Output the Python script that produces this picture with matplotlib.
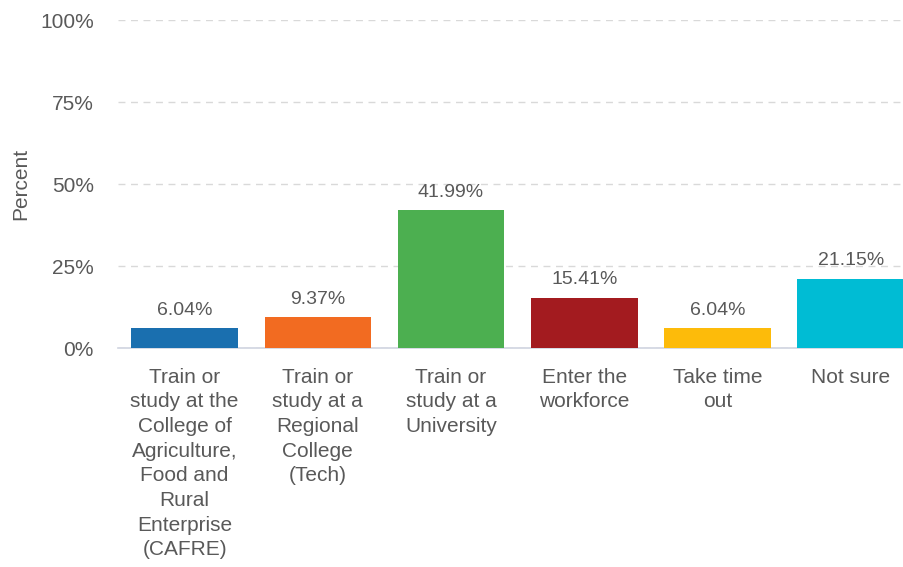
import matplotlib.pyplot as plt

# --- data ---
categories = [
    "Train or\nstudy at the\nCollege of\nAgriculture,\nFood and\nRural\nEnterprise\n(CAFRE)",
    "Train or\nstudy at a\nRegional\nCollege\n(Tech)",
    "Train or\nstudy at a\nUniversity",
    "Enter the\nworkforce",
    "Take time\nout",
    "Not sure",
]
values = [6.04, 9.37, 41.99, 15.41, 6.04, 21.15]
yticks = [0, 25, 50, 75, 100]
colors = ["#1a6faf", "#f26b21", "#4caf50", "#a31b1f", "#fdbb0a", "#00bcd4"]

plt.rcParams["font.family"] = ["Liberation Sans", "DejaVu Sans"]
txt = "#595959"

fig = plt.figure(figsize=(9.04, 5.67), dpi=100)
ax = fig.add_axes([0.1305, 0.386, 0.8695, 0.5785])

x = range(len(values))
ax.bar(x, values, width=0.8, color=colors, zorder=3)

for xi, v in zip(x, values):
    ax.annotate(f"{v:.2f}%", (xi, v), xytext=(0, 7), textcoords="offset points",
                ha="center", va="bottom", fontsize=14, color=txt)

ax.set_xlim(-0.5, 5.4)
ax.set_ylim(0, 100)
ax.set_yticks(yticks)
ax.set_yticklabels([f"{t}%" for t in yticks], fontsize=15, color=txt)
ax.set_xticks(list(x))
ax.set_xticklabels(categories, fontsize=15, color=txt, linespacing=1.38)
ax.tick_params(axis="both", length=0)
ax.tick_params(axis="y", pad=17.5)
ax.tick_params(axis="x", pad=14)

ax.grid(axis="y", color="#d9d9d9", linestyle=(0, (5, 4)), linewidth=1, zorder=0)
ax.set_axisbelow(True)
for s in ["top", "right", "left"]:
    ax.spines[s].set_visible(False)
ax.spines["bottom"].set_color("#d0d4e0")
ax.spines["bottom"].set_linewidth(1.2)

ax.set_ylabel("Percent", fontsize=15, color=txt)
ax.yaxis.set_label_coords(-0.112, 0.5)

fig.savefig("out.png", dpi=100)
